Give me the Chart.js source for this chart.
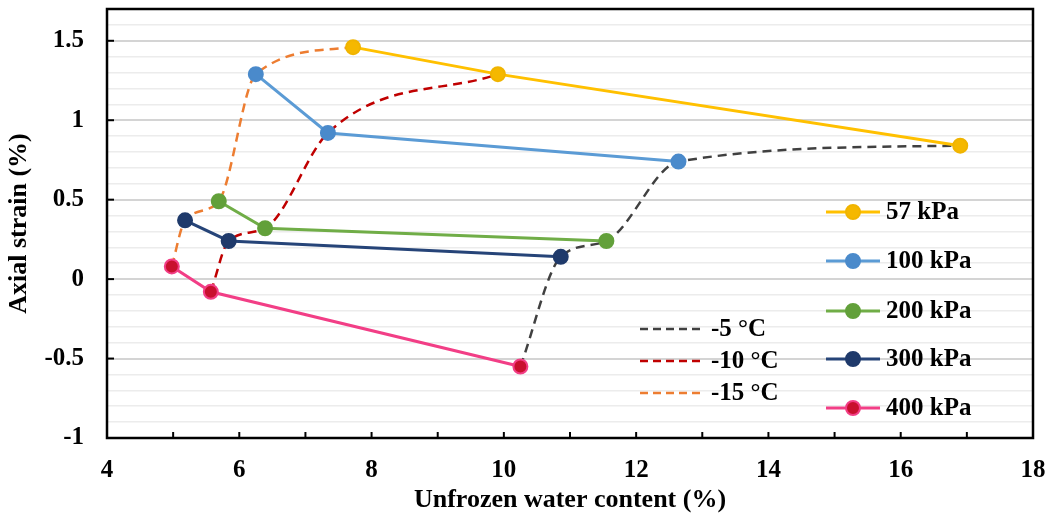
<!DOCTYPE html>
<html>
<head>
<meta charset="utf-8">
<script src="https://cdn.jsdelivr.net/npm/chart.js@4.4.1/dist/chart.umd.min.js"></script>
<style>
  html, body { margin: 0; padding: 0; background: #fff; }
  #wrap { width: 1052px; height: 519px; position: relative; }
</style>
</head>
<body>
<div id="wrap"><canvas id="strainChart"></canvas></div>
<script>
// unfrozen water content (%) / axial strain (%) per pressure, points ordered -15, -10, -5 °C
const pressureLabels = ['57 kPa', '100 kPa', '200 kPa', '300 kPa', '400 kPa'];
const water57 = [7.72, 9.91, 16.9];
const strain57 = [1.46, 1.29, 0.84];
const water100 = [6.25, 7.34, 12.64];
const strain100 = [1.29, 0.92, 0.74];
const water200 = [5.69, 6.39, 11.55];
const strain200 = [0.49, 0.32, 0.24];
const water300 = [5.18, 5.84, 10.86];
const strain300 = [0.37, 0.24, 0.14];
const water400 = [4.98, 5.57, 10.25];
const strain400 = [0.08, -0.08, -0.55];
const tempLabels = ['-15 °C', '-10 °C', '-5 °C'];

const FONT = '"Liberation Serif", "Times New Roman", serif';

const waterSets = [water57, water100, water200, water300, water400];
const strainSets = [strain57, strain100, strain200, strain300, strain400];
const pressureColors = ['#FFC000', '#5B9BD5', '#70AD47', '#264478', '#F23E86'];
const markerFill = ['#F5B800', '#4A8ACB', '#62A03A', '#1F3A6B', '#C8102E'];
const markerBorder = ['#F0B400', '#4A8ACB', '#62A03A', '#1F3A6B', '#F23E86'];
const tempColors = ['#ED7D31', '#C00000', '#404040'];

const datasets = [];

// dashed isotherm curves, from 400 kPa up to 57 kPa
tempLabels.forEach(function (label, t) {
  const pts = [];
  for (let p = waterSets.length - 1; p >= 0; p--) {
    pts.push({ x: waterSets[p][t], y: strainSets[p][t] });
  }
  datasets.push({
    label: label,
    data: pts,
    showLine: true,
    borderColor: tempColors[t],
    borderWidth: 2.5,
    borderDash: [9, 6],
    cubicInterpolationMode: 'monotone',
    pointRadius: 0,
    order: 10
  });
});

pressureLabels.forEach(function (label, i) {
  datasets.push({
    label: label,
    data: waterSets[i].map(function (x, k) { return { x: x, y: strainSets[i][k] }; }),
    showLine: true,
    borderColor: pressureColors[i],
    borderWidth: 3,
    tension: 0,
    pointRadius: 7,
    pointBackgroundColor: markerFill[i],
    pointBorderColor: markerBorder[i],
    pointBorderWidth: 2,
    order: 1
  });
});

function isMajor(v) {
  return Math.abs(v * 2 - Math.round(v * 2)) < 1e-6;
}

function noEdgePadding(scale) {
  scale.paddingTop = 0;
  scale.paddingBottom = 0;
  scale.paddingLeft = 0;
  scale.paddingRight = 0;
}

const frameAndLegend = {
  id: 'frameAndLegend',
  afterDatasetsDraw: function (chart) {
    const ctx = chart.ctx;
    const a = chart.chartArea;
    const xs = chart.scales.x;
    const ys = chart.scales.y;
    ctx.save();
    // inner tick marks
    ctx.strokeStyle = '#000';
    ctx.lineWidth = 2;
    for (let v = 5; v < 18; v++) {
      const px = xs.getPixelForValue(v);
      ctx.beginPath();
      ctx.moveTo(px, a.bottom);
      ctx.lineTo(px, a.bottom - 6);
      ctx.stroke();
    }
    for (let v = -0.5; v <= 1.5; v += 0.5) {
      const py = ys.getPixelForValue(v);
      ctx.beginPath();
      ctx.moveTo(a.left, py);
      ctx.lineTo(a.left + 7, py);
      ctx.stroke();
    }
    // frame
    ctx.lineWidth = 2.5;
    ctx.strokeRect(a.left, a.top, a.right - a.left, a.bottom - a.top);

    // pressure legend
    ctx.font = 'bold 25px ' + FONT;
    ctx.textBaseline = 'middle';
    ctx.textAlign = 'left';
    const rowsP = [212, 261, 311, 359, 408];
    pressureLabels.forEach(function (label, i) {
      const y = rowsP[i];
      ctx.strokeStyle = pressureColors[i];
      ctx.lineWidth = 3;
      ctx.setLineDash([]);
      ctx.beginPath();
      ctx.moveTo(826, y);
      ctx.lineTo(880, y);
      ctx.stroke();
      ctx.beginPath();
      ctx.arc(853, y, 7, 0, Math.PI * 2);
      ctx.fillStyle = markerFill[i];
      ctx.fill();
      ctx.lineWidth = 2;
      ctx.strokeStyle = markerBorder[i];
      ctx.stroke();
      ctx.fillStyle = '#000';
      ctx.fillText(label, 886, y + 1);
    });

    // temperature legend
    const rowsT = [393, 361, 329];
    tempLabels.forEach(function (label, t) {
      const y = rowsT[t];
      ctx.strokeStyle = tempColors[t];
      ctx.lineWidth = 2.5;
      ctx.setLineDash([8, 5]);
      ctx.beginPath();
      ctx.moveTo(640, y);
      ctx.lineTo(705, y);
      ctx.stroke();
      ctx.setLineDash([]);
      ctx.fillStyle = '#000';
      ctx.fillText(label, 711, y + 1);
    });
    ctx.restore();
  }
};

new Chart(document.getElementById('strainChart'), {
  type: 'scatter',
  data: { datasets: datasets },
  options: {
    responsive: true,
    maintainAspectRatio: false,
    animation: false,
    layout: { padding: { top: 7, right: 19, left: 0, bottom: 0 } },
    plugins: {
      legend: { display: false },
      tooltip: { enabled: false }
    },
    scales: {
      x: {
        type: 'linear',
        min: 4,
        max: 18,
        afterFit: function (scale) { scale.height = 81; noEdgePadding(scale); },
        grid: { display: false, drawTicks: false },
        border: { display: false },
        ticks: {
          stepSize: 1,
          autoSkip: false,
          maxRotation: 0,
          padding: 18,
          color: '#000',
          font: { family: FONT, size: 25, weight: 'bold' },
          callback: function (v) { return v % 2 === 0 ? String(v) : ''; }
        },
        title: {
          display: true,
          text: 'Unfrozen water content (%)',
          color: '#000',
          font: { family: FONT, size: 26, weight: 'bold' },
          padding: { top: 0, bottom: 3 }
        }
      },
      y: {
        min: -1,
        max: 1.7,
        afterFit: function (scale) { scale.width = 107; noEdgePadding(scale); },
        grid: {
          drawTicks: false,
          color: function (c) { return isMajor(c.tick.value) ? '#d4d4d4' : '#ececec'; },
          lineWidth: function (c) { return isMajor(c.tick.value) ? 2 : 1.5; }
        },
        border: { display: false },
        ticks: {
          stepSize: 0.1,
          autoSkip: false,
          maxTicksLimit: 100,
          padding: 23,
          color: '#000',
          font: { family: FONT, size: 25, weight: 'bold' },
          callback: function (v) {
            if (!isMajor(v) || v > 1.55) return '';
            return String(Math.round(v * 2) / 2);
          }
        },
        title: {
          display: true,
          text: 'Axial strain (%)',
          color: '#000',
          font: { family: FONT, size: 26, weight: 'bold' },
          padding: { top: 3.5, bottom: 0 }
        }
      }
    }
  },
  plugins: [frameAndLegend]
});
</script>
</body>
</html>
